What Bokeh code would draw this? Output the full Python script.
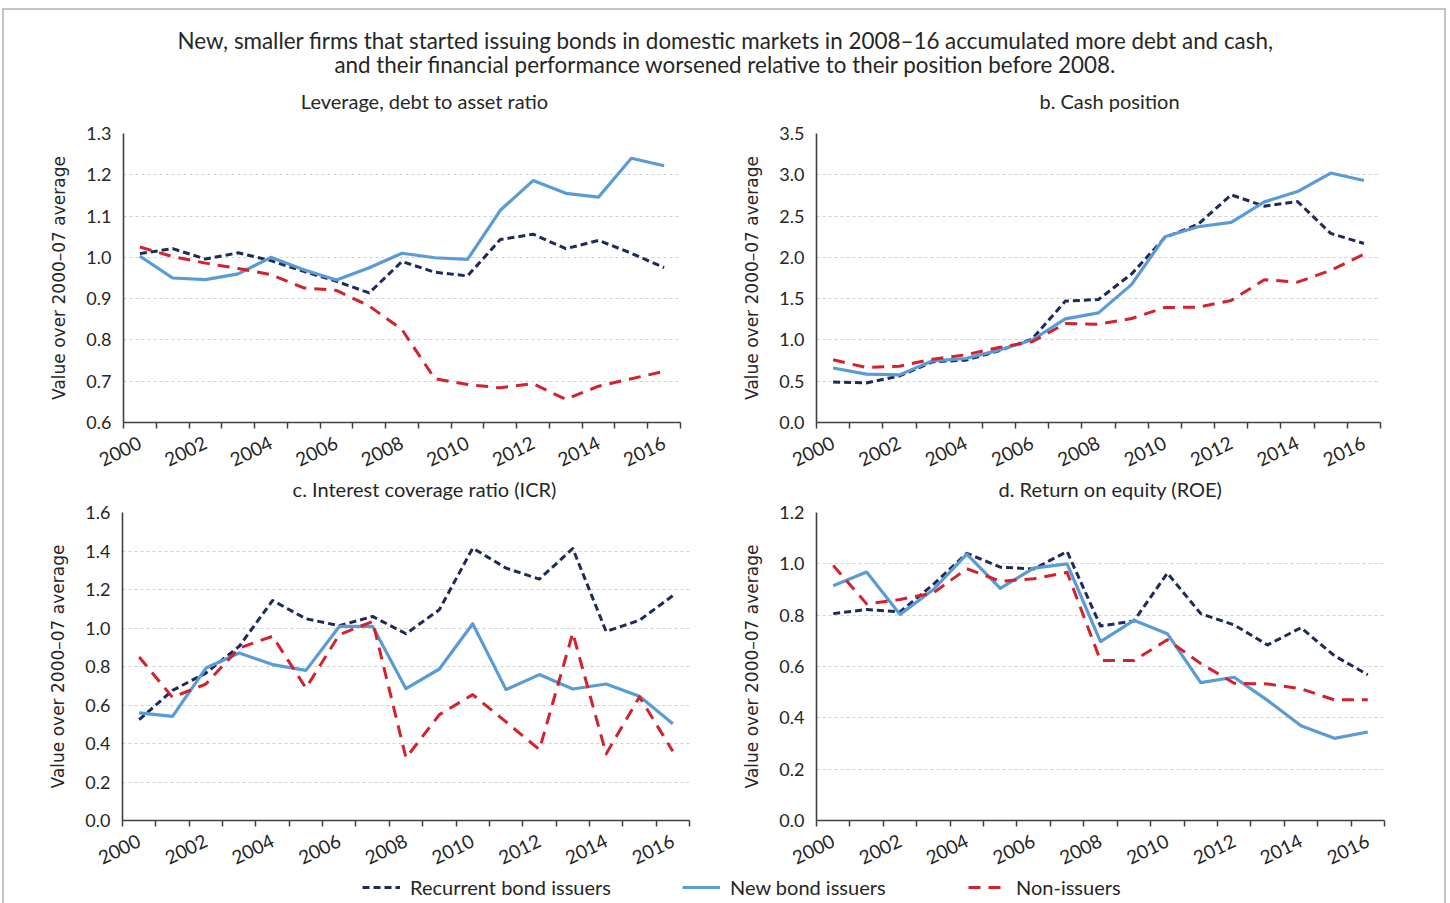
import numpy as np
from bokeh.plotting import figure
from bokeh.models import (Range1d, FixedTicker, NumeralTickFormatter, Label, Legend,
                          LegendItem, InlineStyleSheet)
from bokeh.layouts import column, row
from bokeh.embed import file_html
from bokeh.resources import INLINE

# ---------------- data ----------------
years = list(range(2000, 2017))
year_labels = [2000, 2002, 2004, 2006, 2008, 2010, 2012, 2014, 2016]
series_names = ["Recurrent bond issuers", "New bond issuers", "Non-issuers"]

main_title_1 = "New, smaller firms that started issuing bonds in domestic markets in 2008\u201316 accumulated more debt and cash,"
main_title_2 = "and their financial performance worsened relative to their position before 2008."
y_axis_label = "Value over 2000\u201307 average"

lev_title = "Leverage, debt to asset ratio"
lev_recurrent = [1.009, 1.021, 0.996, 1.011, 0.992, 0.966, 0.942, 0.914, 0.990, 0.964, 0.955, 1.043, 1.056, 1.021, 1.041, 1.010, 0.975]
lev_new = [1.003, 0.950, 0.946, 0.960, 1.000, 0.970, 0.945, 0.975, 1.010, 0.999, 0.995, 1.114, 1.186, 1.155, 1.146, 1.240, 1.222]
lev_non = [1.025, 1.002, 0.986, 0.973, 0.958, 0.926, 0.920, 0.882, 0.825, 0.706, 0.692, 0.684, 0.694, 0.656, 0.688, 0.706, 0.724]

cash_title = "b. Cash position"
cash_recurrent = [0.491, 0.479, 0.564, 0.735, 0.755, 0.869, 1.011, 1.470, 1.490, 1.800, 2.240, 2.400, 2.757, 2.620, 2.675, 2.290, 2.168]
cash_new = [0.660, 0.585, 0.577, 0.747, 0.775, 0.877, 0.999, 1.255, 1.328, 1.673, 2.249, 2.371, 2.424, 2.672, 2.797, 3.021, 2.931]
cash_non = [0.759, 0.666, 0.682, 0.767, 0.820, 0.909, 0.978, 1.198, 1.190, 1.259, 1.393, 1.397, 1.478, 1.730, 1.700, 1.843, 2.038]

icr_title = "c. Interest coverage ratio (ICR)"
icr_recurrent = [0.524, 0.676, 0.766, 0.905, 1.143, 1.048, 1.012, 1.060, 0.970, 1.095, 1.415, 1.311, 1.254, 1.413, 0.982, 1.040, 1.168]
icr_new = [0.559, 0.541, 0.792, 0.870, 0.810, 0.780, 1.008, 1.008, 0.685, 0.787, 1.022, 0.680, 0.758, 0.683, 0.709, 0.645, 0.503]
icr_non = [0.849, 0.640, 0.709, 0.896, 0.957, 0.688, 0.965, 1.034, 0.325, 0.550, 0.654, 0.512, 0.368, 0.974, 0.346, 0.642, 0.360]

roe_title = "d. Return on equity (ROE)"
roe_recurrent = [0.806, 0.822, 0.813, 0.920, 1.041, 0.987, 0.980, 1.048, 0.758, 0.777, 0.964, 0.806, 0.762, 0.684, 0.751, 0.642, 0.568]
roe_new = [0.915, 0.968, 0.803, 0.900, 1.038, 0.904, 0.983, 1.000, 0.697, 0.780, 0.728, 0.537, 0.558, 0.468, 0.369, 0.320, 0.345]
roe_non = [0.994, 0.844, 0.861, 0.887, 0.981, 0.932, 0.942, 0.967, 0.623, 0.623, 0.704, 0.612, 0.535, 0.532, 0.513, 0.470, 0.470]

# ---------------- styles ----------------
FONT = "Lato"
TEXT = "#262626"
AXIS = "#404040"
styles = [
    dict(line_color="#1f2a5a", line_width=3, line_dash="7 4"),
    dict(line_color="#5b9bd5", line_width=3.2, line_dash="solid"),
    dict(line_color="#d2222d", line_width=3, line_dash="12 8"),
]


def strip(height):
    s = figure(width=1450, height=height, output_backend="svg", toolbar_location=None,
               x_range=Range1d(0, 1), y_range=Range1d(0, 1),
               x_axis_location=None, y_axis_location=None, min_border=0)
    s.outline_line_color = None
    s.grid.visible = False
    return s


def add_text(fig, txt, sx, sy, size):
    fig.add_layout(Label(x=sx, y=sy, x_units="screen", y_units="screen", text=txt,
                         text_align="center", text_baseline="middle",
                         text_font=FONT, text_font_size=size, text_color=TEXT))


def make_panel(series, y0, y1, step, width, height, mb):
    left, right, top, bottom = mb
    p = figure(width=width, height=height, output_backend="svg", toolbar_location=None,
               x_range=Range1d(1999.5, 2016.5), y_range=Range1d(y0, y1),
               min_border_left=left, min_border_right=right,
               min_border_top=top, min_border_bottom=bottom)
    p.outline_line_color = None

    for vals, st in zip(series, styles):
        p.line(years, vals, line_join="round", **st)

    xa = p.xaxis[0]
    xa.ticker = FixedTicker(ticks=year_labels,
                            minor_ticks=[y - 0.5 for y in years] + [years[-1] + 0.5])
    xa.major_tick_out = 0
    xa.major_tick_in = 0
    xa.minor_tick_out = 6
    xa.minor_tick_in = 0
    xa.minor_tick_line_color = AXIS
    xa.minor_tick_line_width = 1.5
    xa.axis_line_color = AXIS
    xa.axis_line_width = 1.6
    xa.major_label_orientation = 0.45
    xa.major_label_text_font = FONT
    xa.major_label_text_font_size = "19px"
    xa.major_label_text_color = TEXT
    xa.major_label_standoff = 13

    ya = p.yaxis[0]
    n = int(round((y1 - y0) / step))
    ya.ticker = FixedTicker(ticks=[round(y0 + i * step, 3) for i in range(n + 1)])
    ya.formatter = NumeralTickFormatter(format="0.0")
    ya.major_tick_out = 0
    ya.major_tick_in = 0
    ya.minor_tick_line_color = None
    ya.axis_line_color = AXIS
    ya.axis_line_width = 1.6
    ya.major_label_text_font = FONT
    ya.major_label_text_font_size = "18px"
    ya.major_label_text_color = TEXT
    ya.major_label_standoff = 12
    ya.axis_label = y_axis_label
    ya.axis_label_text_font = "DejaVu Sans"
    ya.axis_label_text_font_size = "17px"
    ya.axis_label_text_font_style = "normal"
    ya.axis_label_text_color = TEXT
    ya.axis_label_standoff = 14

    p.xgrid.visible = False
    p.ygrid.grid_line_color = "#d0d0d0"
    p.ygrid.grid_line_dash = "3 3"
    p.ygrid.grid_line_width = 1.2
    return p


# top strip: main title + headings of panels a and b
top = strip(115)
add_text(top, main_title_1, 725, 75, "22.4px")
add_text(top, main_title_2, 725, 51, "22.4px")
add_text(top, lev_title, 424, 15, "20px")
add_text(top, cash_title, 1109, 15, "20px")

pa = make_panel([lev_recurrent, lev_new, lev_non], 0.6, 1.3, 0.1, 725, 362, (123, 45, 18, 55))
pb = make_panel([cash_recurrent, cash_new, cash_non], 0.0, 3.5, 0.5, 725, 362, (91, 70, 18, 54))

# middle strip: headings of panels c and d
mid = strip(23)
add_text(mid, icr_title, 424, 12, "20px")
add_text(mid, roe_title, 1110, 12, "20px")

pc = make_panel([icr_recurrent, icr_new, icr_non], 0.0, 1.6, 0.2, 725, 375, (122, 36, 12, 55))
pd = make_panel([roe_recurrent, roe_new, roe_non], 0.0, 1.2, 0.2, 725, 375, (91, 66, 9, 54))

# ---------------- legend ----------------
leg = strip(28)
leg_x = [362, 682, 968]
for name, st, lx in zip(series_names, styles, leg_x):
    r = leg.line([np.nan], [np.nan], **st)
    lg = Legend(items=[LegendItem(label=name, renderers=[r])], location=(lx, 4),
                orientation="horizontal", border_line_color=None, background_fill_alpha=0,
                padding=0, margin=0, glyph_width=38, label_standoff=10,
                label_text_font=FONT, label_text_font_size="20px", label_text_color=TEXT)
    leg.add_layout(lg, "center")

layout = column(top, row(pa, pb), mid, row(pc, pd), leg)
layout.stylesheets = [InlineStyleSheet(css=":host { position: relative; } :host::after { content: ''; position: absolute; left: 2px; top: 8px; width: 1444px; height: 920px; border: 2px solid #c4c4c4; pointer-events: none; box-sizing: border-box; }")]

open("out.html", "w").write(file_html(layout, INLINE))
